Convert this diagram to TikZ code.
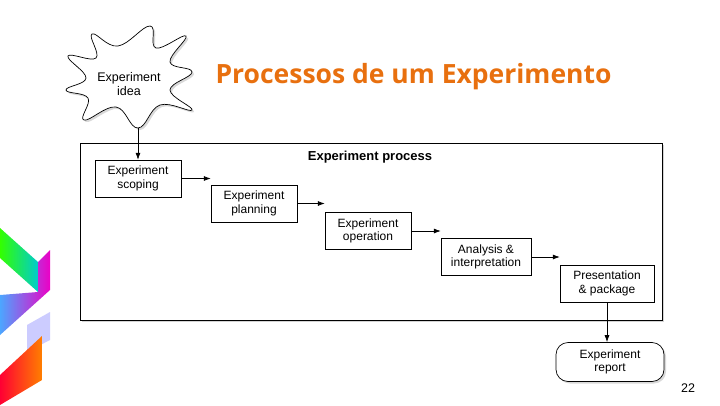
\documentclass[tikz,border=0pt]{standalone}
\usepackage{fontspec}
\setmainfont{Liberation Sans}
\newfontfamily\titlefont{Open Sans}
\usetikzlibrary{arrows.meta,shadows}
\definecolor{ttl}{HTML}{E8700F}
\begin{document}
\begin{tikzpicture}[x=1pt,y=-1pt,
  stepbox/.style={draw,fill=white,minimum width=86pt,minimum height=37pt,align=center,font=\fontsize{12}{13.5}\selectfont,inner sep=1pt},
  conn/.style={-{Latex[length=7pt,width=5pt]},line width=0.7pt}]
\useasboundingbox (0,0) rectangle (720,405);
% decoration
\shade[left color=green!80!yellow,right color=cyan!60!teal] (0,228)--(0,258)--(38,292)--(38,262)--cycle;
\shade[left color=blue!50!cyan!70,right color=magenta!70!purple] (0,295)--(0,335)--(50,290)--(50,250)--(38,262)--(38,292)--cycle;
\fill[blue!25,opacity=0.8] (27,325)--(50,312)--(50,340)--(27,352)--cycle;
\shade[left color=red!80!magenta,right color=orange] (0,375)--(0,405)--(42,380)--(42,336)--cycle;
% process box
\node[draw,line width=0.7pt,fill=white,minimum width=582pt,minimum height=177pt,anchor=north west,drop shadow={opacity=0.35,shadow xshift=2pt,shadow yshift=-2pt}] (proc) at (80,143) {};
\node[font=\bfseries\fontsize{13}{14}\selectfont] (ptitle) at (370,157) {Experiment process};
\node[stepbox] (s1) at (138,178.5) {Experiment\\scoping};
\node[stepbox] (s2) at (254,203.5) {Experiment\\planning};
\node[stepbox] (s3) at (368,231) {Experiment\\operation};
\node[stepbox,minimum width=90pt] (s4) at (486,257) {Analysis \&\\interpretation};
\node[stepbox,minimum width=94pt] (s5) at (607,283.5) {Presentation\\\& package};
\node[draw,line width=0.7pt,fill=white,rounded corners=12pt,minimum width=108pt,minimum height=39pt,align=center,font=\fontsize{12}{13.5}\selectfont,drop shadow={opacity=0.3,shadow xshift=2pt,shadow yshift=-2pt}] (rep) at (610,362) {Experiment\\report};
% cloud
\draw[line width=0.7pt,fill=white,drop shadow={opacity=0.3,shadow xshift=2pt,shadow yshift=-2pt}] plot[smooth cycle,tension=0.7] coordinates {
 (92,34) (118,46) (150,26) (156,48) (186,36) (170,62) (192,72) (170,90) (192,110) (160,105) (138,128) (116,107) (84,120) (88,98) (66,90) (86,78) (68,56) (96,58)};
\node[align=center,font=\fontsize{12.5}{13.5}\selectfont] (idea) at (129,84) {Experiment\\idea};
\coordinate (cb) at (138,128);
\draw[conn] (cb) -- (s1.north);
\draw[conn] (s1.east) -- (s2.west |- s1.east);
\draw[conn] (s2.east) -- (s3.west |- s2.east);
\draw[conn] (s3.east) -- (s4.west |- s3.east);
\draw[conn] (s4.east) -- (s5.west |- s4.east);
\draw[conn] (s5.south) -- (rep.north -| s5.south);
\node[font=\titlefont\bfseries\fontsize{26.5}{30}\selectfont,text=ttl,anchor=west] (title) at (212,77) {Processos de um Experimento};
\node[font=\fontsize{12.5}{14}\selectfont] (pg) at (688,388) {22};
\end{tikzpicture}
\end{document}
